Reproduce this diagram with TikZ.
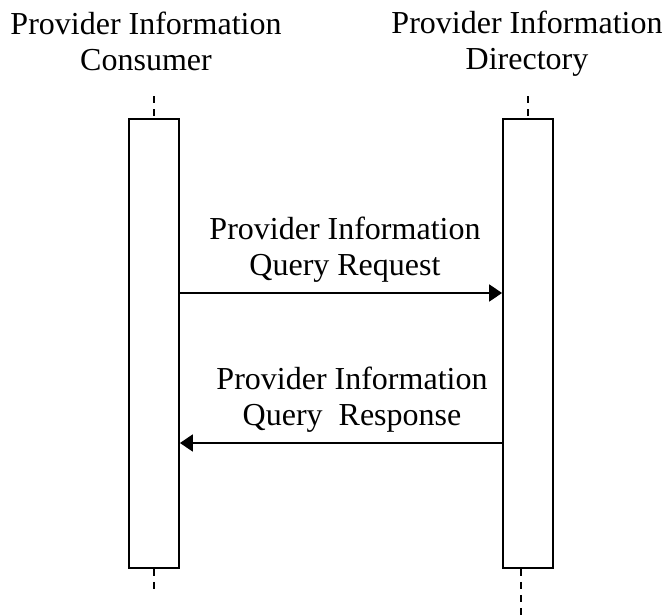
\documentclass[tikz,border=0pt]{standalone}
\usepackage{fontspec}
\setmainfont{Liberation Serif}
\usetikzlibrary{arrows.meta}

\tikzset{
  lifebox/.style={draw,line width=1.8pt,minimum width=50pt,minimum height=449pt,inner sep=0pt},
  lifeline/.style={line width=1.8pt,dash pattern=on 7pt off 6pt},
  msg/.style={line width=1.8pt,-{Triangle[length=13pt,width=17pt]}},
  lbl/.style={align=center,inner sep=0pt,font=\fontsize{32}{36}\selectfont}
}

\begin{document}
\begin{tikzpicture}[x=1pt,y=-1pt]
      \useasboundingbox (0,0) rectangle (665,616);

      %%%%%%%%%%%%%%%%%%%%%%%%%%%%%%%%%%%%%%%%%%%%%%%%%%%%%%%%%%%%%%%%%%%%%%%%%%%
      %%%%  Lifelines
      \node[lifebox] (cons) at (154,343.5) {};
      \node[lifebox] (dir) at (528,343.5) {};

      \coordinate (constop) at (154,96);
      \coordinate (consbot) at (154,592);
      \coordinate (dirtop) at (528,96);
      \coordinate (dirbot) at (521,616);

      \draw[lifeline] (constop) -- (cons.north);
      \draw[lifeline] (cons.south) -- (consbot);
      \draw[lifeline] (dirtop) -- (dir.north);
      \draw[lifeline] (dir.south -| dirbot) -- (dirbot);

      \node[lbl] (conslbl) at (146,41) {Provider Information\\Consumer};
      \node[lbl] (dirlbl) at (527,44) {Provider Information\\Directory};

      %%%%%%%%%%%%%%%%%%%%%%%%%%%%%%%%%%%%%%%%%%%%%%%%%%%%%%%%%%%%%%%%%%%%%%%%%%%
      %%%%  Messages
      \coordinate (req) at (0,293);
      \coordinate (resp) at (0,443);

      \draw[msg] (cons.east |- req) -- (dir.west |- req);
      \draw[msg] (dir.west |- resp) -- (cons.east |- resp);

      \node[lbl] (reqlbl) at (345,250) {Provider Information\\Query Request};
      \node[lbl] (resplbl) at (352,400) {Provider Information\\Query\ \ Response};
    \end{tikzpicture}
\end{document}
